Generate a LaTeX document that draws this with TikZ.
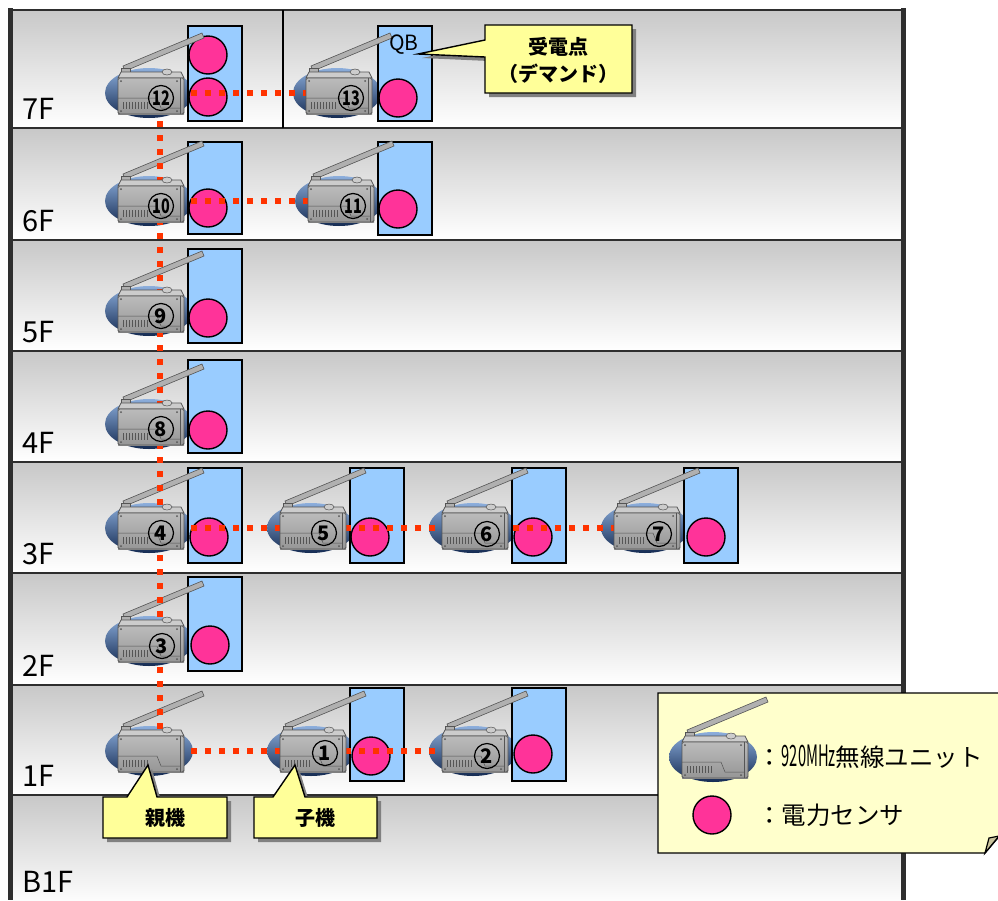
\documentclass[tikz,border=0pt]{standalone}
\usepackage{fontspec}
\setmainfont{Noto Sans CJK JP}
\usepackage{graphicx}
\usetikzlibrary{calc}

\definecolor{linkred}{HTML}{FF3300}
\definecolor{panelblue}{HTML}{99CCFF}
\definecolor{sensorpink}{HTML}{FF3399}
\definecolor{noteyellow}{HTML}{FFFF99}
\definecolor{legendyellow}{HTML}{FFFFCC}
\definecolor{floortop}{HTML}{C8C8C8}
\definecolor{floormid}{HTML}{E6E6E6}
\definecolor{wall}{HTML}{2E2E2E}
\definecolor{basetop}{HTML}{8CAEDC}
\definecolor{basemid}{HTML}{4A72AC}
\definecolor{basebot}{HTML}{152B52}
\definecolor{bodylight}{HTML}{CCCCCC}
\definecolor{bodytop}{HTML}{BBBBBB}
\definecolor{bodybot}{HTML}{969696}
\definecolor{bodyedge}{HTML}{555555}
\definecolor{antfill}{HTML}{B0B0B0}
\definecolor{foldtan}{HTML}{C9C39C}
\definecolor{shadowgray}{HTML}{808080}

\newcommand\tightnum[1]{\scalebox{0.72}[1]{#1}}

\tikzset{
  floorlabel/.style={anchor=base west, font=\fontsize{29}{29}\selectfont, inner sep=0pt},
  panel/.style={draw=black, line width=1.8pt, fill=panelblue, anchor=north west,
    minimum width=54pt, inner sep=0pt},
  sensor/.style={circle, draw=black, line width=1.4pt, fill=sensorpink,
    minimum size=38pt, inner sep=0pt},
  link/.style={draw=linkred, line width=6pt, dash pattern=on 6pt off 8pt},
  num/.style={circle, draw=black, line width=1.2pt, minimum size=25pt, inner sep=0pt,
    font=\bfseries\fontsize{20}{20}\selectfont},
  note/.style={fill=noteyellow, draw=black, line width=1.4pt, line join=miter},
  noteshadow/.style={fill=shadowgray, shift={(4,4)}},
  notetext/.style={font=\bfseries\fontsize{20}{20}\selectfont, inner sep=0pt},
  legendtext/.style={anchor=west, font=\fontsize{24.5}{24.5}\selectfont, inner sep=0pt},
  % blue oval under a wireless unit
  unitbase/.pic={
    \shade[top color=basetop, middle color=basemid, bottom color=basebot]
      (0,0) ellipse [x radius=44pt, y radius=25pt];
  },
  % folding antenna
  unitantenna/.pic={
    \filldraw[fill=antfill, draw=bodyedge, line width=0.6pt]
      (-24,-22) -- (-26,-27) -- (53,-60) -- (55,-55) -- cycle;
    \filldraw[fill=antfill, draw=bodyedge, line width=0.6pt]
      (-28,-20) rectangle (-19,-25);
  },
  % housing of the unit
  unitbody/.pic={
    \filldraw[fill=bodylight, draw=bodyedge, line width=0.7pt]
      (-31,-15) -- (-28,-21) -- (32,-21) -- (35,-15) -- cycle;
    \shade[top color=bodytop, bottom color=bodybot] (-31,-15) rectangle (35,21);
    \draw[bodyedge, line width=0.8pt, rounded corners=1.5pt] (-31,-15) rectangle (35,21);
    \draw[bodyedge, line width=0.5pt] (31,-15) -- (31,21);
    \filldraw[fill=bodylight, draw=bodyedge, line width=0.5pt]
      (18,-21) ellipse [x radius=5pt, y radius=3pt];
    \foreach \k in {0,...,8} \draw[bodyedge, line width=0.6pt] (-26+3*\k,9) -- ++(0,7);
    \draw[bodyedge, line width=0.5pt] (-31,5) -- (8,5) -- (12,15) -- (31,15);
    \fill[bodyedge] (-28,-12) circle (1pt) (28,-12) circle (1pt)
      (-28,18) circle (1pt) (28,18) circle (1pt);
  },
}

\begin{document}
\begin{tikzpicture}[x=1pt, y=-1pt]
\useasboundingbox (0,0) rectangle (998,900);
\clip (0,0) rectangle (998,900);
\fill[white] (0,0) rectangle (998,900);

% floors
\foreach \ya/\yb/\yl/\lab in {10/128/119/7F, 128/240/231/6F, 240/351/342/5F,
    351/462/453/4F, 462/573/564/3F, 573/685/676/2F, 685/795/786/1F, 795/905/892/B1F} {
  \shade[top color=floortop, middle color=floormid, bottom color=white]
    (10,\ya) rectangle (903.5,\yb);
  \node[floorlabel] (f\lab) at (22,\yl) {\lab};
}
\foreach \y in {128,240,351,462,573,685,795}
  \draw[wall, line width=2pt] (10,\y) -- (903.5,\y);
\draw[wall, line width=2pt] (8,10) -- (906,10);
\draw[wall, line width=5pt] (10,8) -- (10,900);
\draw[wall, line width=5pt] (903.5,8) -- (903.5,900);
\draw[black, line width=1.5pt] (283,10) -- (283,128);

% unit positions
\foreach \n/\x/\y in {12/149/93, 13/337/93, 10/149/201, 11/339/201, 9/149/311,
    8/149/424, 4/149/528, 5/311/528, 6/473/528, 7/645/528, 3/149/641,
    P/149/751, 1/311/751, 2/473/751}
  \coordinate (u\n) at (\x,\y);

\foreach \n in {12,13,10,11,9,8,4,5,6,7,3,P,1,2}
  \pic at (u\n) {unitbase};

% distribution panels
\foreach \n/\x/\ya/\yb in {12/187/25/120, 13/377/25/120, 10/187/141/233, 11/377/141/234,
    9/187/248/342, 8/187/359/452, 4/187/467/562, 5/349/467/562, 6/511/467/562,
    7/683/467/562, 3/187/576/670, 1/349/687/780, 2/511/687/780}
  \node[panel, minimum height={\yb-\ya}] (b\n) at (\x,\ya) {};

% power sensors
\foreach \n/\x/\y in {12a/208/55, 12/208/97, 13/398/98, 10/208/208, 11/398/209,
    9/208/318, 8/208/430, 4/209/537, 5/370/537, 6/533/537, 7/706/537,
    3/210/645, 1/371/756, 2/533/754}
  \node[sensor] (s\n) at (\x,\y) {};

\foreach \n in {12,13,10,11,9,8,4,5,6,7,3,P,1,2}
  \pic at (u\n) {unitantenna};

% radio links
\draw[link] (u12) -- (u13);
\draw[link] (u10) -- (u11);
\draw[link] (u4) -- (u7);
\draw[link] (uP) -- (u2);
\draw[link] ([xshift=11pt]u12) -- ([xshift=11pt]uP);

\foreach \n in {12,13,10,11,9,8,4,5,6,7,3,P,1,2}
  \pic at (u\n) {unitbody};

% unit numbers
\node[num] (n12) at ($(u12)+(12,5)$) {\tightnum{12}};
\node[num] (n13) at ($(u13)+(14,5)$) {\tightnum{13}};
\node[num] (n10) at ($(u10)+(12,5)$) {\tightnum{10}};
\node[num] (n11) at ($(u11)+(14,5)$) {\tightnum{11}};
\node[num] (n9) at ($(u9)+(12,5)$) {9};
\node[num] (n8) at ($(u8)+(12,5)$) {8};
\node[num] (n4) at ($(u4)+(12,5)$) {4};
\node[num] (n5) at ($(u5)+(13,5)$) {5};
\node[num] (n6) at ($(u6)+(14,6)$) {6};
\node[num] (n7) at ($(u7)+(14,6)$) {7};
\node[num] (n3) at ($(u3)+(13,5)$) {3};
\node[num] (n1) at ($(u1)+(14,2)$) {1};
\node[num] (n2) at ($(u2)+(14,5)$) {2};

% QB label and demand-point callout
\node[font=\fontsize{21}{21}\selectfont, inner sep=0pt] (qb) at (404,45) {QB};
\path[noteshadow] (485,25) -- (632,25) -- (632,93) -- (485,93) -- (485,57)
  -- (418,54) -- (485,40) -- cycle;
\path[note] (485,25) -- (632,25) -- (632,93) -- (485,93) -- (485,57)
  -- (418,54) -- (485,40) -- cycle;
\node[notetext] (tDemand1) at (558,47) {受電点};
\node[notetext] (tDemand2) at (558,74) {（デマンド）};

% parent / child callouts
\path[noteshadow] (103,797) -- (127,797) -- (148,765) -- (157,797) -- (227,797)
  -- (227,838) -- (103,838) -- cycle;
\path[note] (103,797) -- (127,797) -- (148,765) -- (157,797) -- (227,797)
  -- (227,838) -- (103,838) -- cycle;
\node[notetext] (tParent) at (165,818) {親機};

\path[noteshadow] (254,797) -- (273,797) -- (295,765) -- (305,797) -- (377,797)
  -- (377,838) -- (254,838) -- cycle;
\path[note] (254,797) -- (273,797) -- (295,765) -- (305,797) -- (377,797)
  -- (377,838) -- (254,838) -- cycle;
\node[notetext] (tChild) at (315,818) {子機};

% legend
\filldraw[fill=legendyellow, draw=black, line width=1.4pt]
  (658,693) -- (1012,693) -- (1012,821) -- (985,853) -- (658,853) -- cycle;
\filldraw[fill=foldtan, draw=black, line width=1.2pt]
  (985,853) -- (989,838) -- (999,836) -- cycle;
\coordinate (lgUnit) at (713,757);
\pic at (lgUnit) {unitbase};
\pic at (lgUnit) {unitantenna};
\pic at (lgUnit) {unitbody};
\node[sensor] (lgSensor) at (712,815) {};
\node[legendtext] (lgText1) at (757,757) {：\scalebox{0.6}[1.2]{920MHz}無線ユニット};
\node[legendtext] (lgText2) at (757,815) {：電力センサ};
\end{tikzpicture}
\end{document}
